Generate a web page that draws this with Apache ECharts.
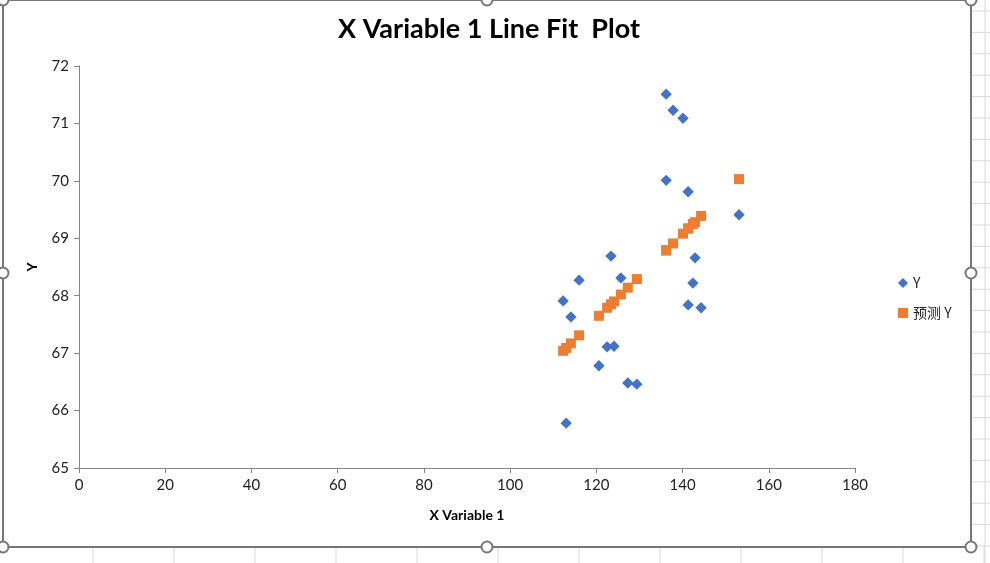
<!DOCTYPE html>
<html>
<head>
<meta charset="utf-8">
<script src="https://cdn.jsdelivr.net/npm/echarts@6/dist/echarts.min.js"></script>
<style>
html,body{margin:0;padding:0;background:#fff;}
#c{width:990px;height:563px;}
</style>
</head>
<body>
<div id="c"></div>
<script>
var xVals = [136.2,137.8,140.1,136.2,141.3,153.1,123.4,142.9,116.0,125.7,142.4,112.3,114.1,141.3,144.3,122.5,124.1,120.6,127.3,129.4,113.0];
var yVals = [71.51,71.23,71.09,70.01,69.81,69.41,68.69,68.66,68.27,68.31,68.22,67.91,67.63,67.84,67.79,67.11,67.12,66.78,66.48,66.46,65.78];
var predY = [68.79,68.91,69.08,68.79,69.17,70.03,67.85,69.28,67.31,68.02,69.25,67.04,67.17,69.17,69.39,67.79,67.90,67.65,68.14,68.29,67.09];
var seriesNames = ['Y', '预测 Y'];
var xTicks = [0,20,40,60,80,100,120,140,160,180];
var yTicks = [65,66,67,68,69,70,71,72];

var font = 'Lato, "Noto Sans", sans-serif';
var axisColor = '#868686';

function pairs(xs, ys){ return xs.map(function(x,i){ return [x, ys[i]]; }); }

// Excel frame decoration
var g = [];
var gridC = '#d9d9d9';
g.push({type:'line', shape:{x1:985,y1:0,x2:985,y2:563}, style:{stroke:gridC,lineWidth:1}, z:-1});
for (var yy = 11; yy < 563; yy += 21.4) {
  g.push({type:'line', shape:{x1:971,y1:yy,x2:990,y2:yy}, style:{stroke:gridC,lineWidth:1}, z:-1});
}
for (var xx = 93; xx < 990; xx += 81) {
  g.push({type:'line', shape:{x1:xx,y1:547,x2:xx,y2:563}, style:{stroke:gridC,lineWidth:1}, z:-1});
}
g.push({type:'rect', shape:{x:3,y:0,width:968,height:547}, style:{fill:'none',stroke:'#777',lineWidth:2}, z:10});
[[3,0],[487,0],[971,0],[3,273],[971,273],[3,547],[487,547],[971,547]].forEach(function(p){
  g.push({type:'circle', shape:{cx:p[0],cy:p[1],r:5.5}, style:{fill:'#fff',stroke:'#777',lineWidth:2}, z:11});
});

var chart = echarts.init(document.getElementById('c'));
chart.setOption({
  backgroundColor: '#fff',
  animation: false,
  title: {
    text: 'X Variable 1 Line Fit  Plot',
    left: 333,
    top: 11,
    textStyle: {fontFamily: font, fontSize: 27, fontWeight: 'bold', color: '#000'}
  },
  legend: {
    orient: 'vertical',
    left: 893,
    top: 271,
    itemWidth: 10,
    itemHeight: 10,
    itemGap: 16,
    textStyle: {fontFamily: '"Noto Sans CJK SC", Lato, sans-serif', fontSize: 14, color: '#222'},
    data: [{name: seriesNames[0], icon: 'diamond'}, {name: seriesNames[1], icon: 'rect'}]
  },
  grid: {left: 79, right: 135, top: 66, bottom: 95, containLabel: false},
  xAxis: {
    type: 'value',
    min: xTicks[0], max: xTicks[xTicks.length-1], interval: 20,
    name: 'X Variable 1',
    nameLocation: 'middle',
    nameGap: 40,
    nameTextStyle: {fontFamily: font, fontSize: 14, fontWeight: 'bold', color: '#000'},
    axisLine: {show: true, lineStyle: {color: axisColor, width: 1}},
    axisTick: {show: true, length: 5, lineStyle: {color: axisColor}},
    axisLabel: {fontFamily: font, fontSize: 15, color: '#222', margin: 10},
    splitLine: {show: false}
  },
  yAxis: {
    type: 'value',
    min: yTicks[0], max: yTicks[yTicks.length-1], interval: 1,
    name: 'Y',
    nameLocation: 'middle',
    nameGap: 40,
    nameRotate: 90,
    nameTextStyle: {fontFamily: font, fontSize: 14, fontWeight: 'bold', color: '#000'},
    axisLine: {show: true, lineStyle: {color: axisColor, width: 1}},
    axisTick: {show: true, length: 5, lineStyle: {color: axisColor}},
    axisLabel: {fontFamily: font, fontSize: 15, color: '#222', margin: 10},
    splitLine: {show: false}
  },
  series: [
    {
      name: seriesNames[0],
      type: 'scatter',
      data: pairs(xVals, yVals),
      symbol: 'rect',
      symbolSize: 8,
      symbolRotate: 45,
      itemStyle: {color: '#4472C4', opacity: 1}
    },
    {
      name: seriesNames[1],
      type: 'scatter',
      data: pairs(xVals, predY),
      symbol: 'rect',
      symbolSize: 10,
      itemStyle: {color: '#ED7D31', opacity: 1}
    }
  ],
  graphic: g
});
</script>
</body>
</html>
